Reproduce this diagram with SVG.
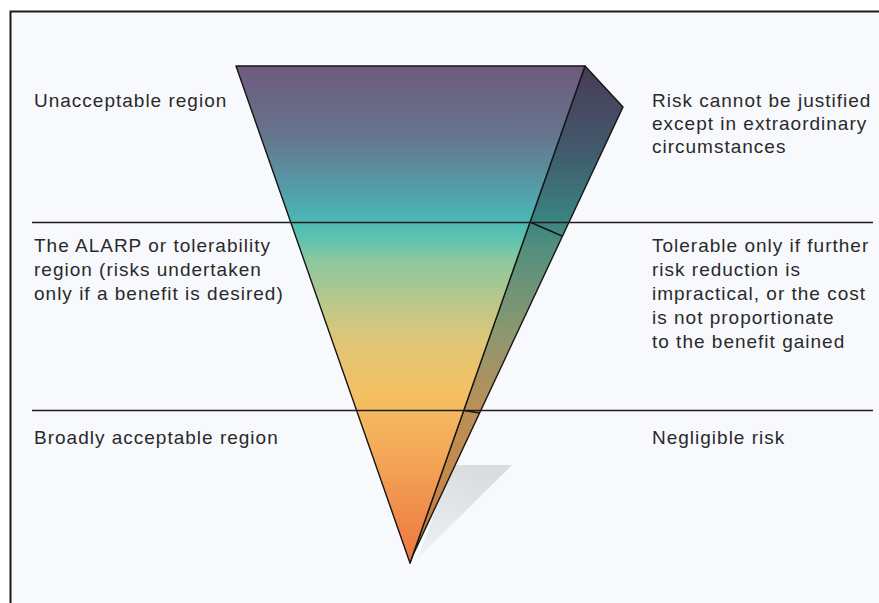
<svg xmlns="http://www.w3.org/2000/svg" width="879" height="603" viewBox="0 0 879 603">
  <style>
    .lbl { font-family: "Liberation Sans", Arial, sans-serif; font-size: 19px; letter-spacing: 1px; fill: #2a2a2a; }
    .edge { stroke: #151515; stroke-width: 1.4; stroke-linejoin: round; }
    .band { stroke: #1e1e1e; stroke-width: 1.5; }
  </style>
  <defs>
    <linearGradient id="gFront" gradientUnits="userSpaceOnUse" x1="0" y1="66" x2="0" y2="563">
      <stop offset="0" stop-color="#6e5a7e"/>
      <stop offset="0.13" stop-color="#67728c"/>
      <stop offset="0.21" stop-color="#5a8f9e"/>
      <stop offset="0.30" stop-color="#4ab3b4"/>
      <stop offset="0.345" stop-color="#5cc3b0"/>
      <stop offset="0.39" stop-color="#8ac7a0"/>
      <stop offset="0.48" stop-color="#bcc888"/>
      <stop offset="0.56" stop-color="#e2c676"/>
      <stop offset="0.66" stop-color="#f4c062"/>
      <stop offset="0.78" stop-color="#f4a858"/>
      <stop offset="0.91" stop-color="#f08a4a"/>
      <stop offset="1" stop-color="#ec7840"/>
    </linearGradient>
    <linearGradient id="gSide" gradientUnits="userSpaceOnUse" x1="0" y1="66" x2="0" y2="563">
      <stop offset="0" stop-color="#4a3a58"/>
      <stop offset="0.17" stop-color="#415a6c"/>
      <stop offset="0.31" stop-color="#3a8480"/>
      <stop offset="0.37" stop-color="#55907f"/>
      <stop offset="0.53" stop-color="#8a9870"/>
      <stop offset="0.68" stop-color="#b89058"/>
      <stop offset="0.82" stop-color="#c48a4a"/>
      <stop offset="1" stop-color="#c07040"/>
    </linearGradient>
    <linearGradient id="gShadow" gradientUnits="userSpaceOnUse" x1="470" y1="465" x2="440" y2="560">
      <stop offset="0" stop-color="#d8dcdc"/>
      <stop offset="1" stop-color="#eef1f3"/>
    </linearGradient>
  </defs>

  <rect x="0" y="0" width="879" height="603" fill="#ffffff"/>
  <g id="frame">
    <rect x="10" y="11" width="880" height="600" fill="#f7f9fc"/>
    <path d="M10.5 603 V11.5 H879" fill="none" stroke="#1a1a1a" stroke-width="2"/>
  </g>

  <g id="pyramid">
    <polygon id="shadow" points="452,465 512,465 418,558" fill="url(#gShadow)"/>
    <polygon id="side-face" class="edge" points="585,66 623,107 413,555 410,563" fill="url(#gSide)"/>
    <polygon id="front-face" class="edge" points="236,66 585,66 410,563" fill="url(#gFront)"/>
  </g>

  <g id="connectors">
    <line class="band" x1="32" y1="222.5" x2="873" y2="222.5"/>
    <line class="band" x1="32" y1="410.5" x2="873" y2="410.5"/>
    <line class="edge" x1="531" y1="222.5" x2="562" y2="236"/>
    <line class="edge" x1="464" y1="410.5" x2="480" y2="413"/>
  </g>

  <g id="unacceptable">
    <text class="lbl" x="34" y="107">Unacceptable region</text>
  </g>
  <g id="unacceptable-note">
    <text class="lbl" x="652" y="107">Risk cannot be justified</text>
    <text class="lbl" x="652" y="130">except in extraordinary</text>
    <text class="lbl" x="652" y="153">circumstances</text>
  </g>
  <g id="alarp">
    <text class="lbl" x="34" y="252">The ALARP or tolerability</text>
    <text class="lbl" x="34" y="276">region (risks undertaken</text>
    <text class="lbl" x="34" y="300">only if a benefit is desired)</text>
  </g>
  <g id="alarp-note">
    <text class="lbl" x="652" y="252">Tolerable only if further</text>
    <text class="lbl" x="652" y="276">risk reduction is</text>
    <text class="lbl" x="652" y="300">impractical, or the cost</text>
    <text class="lbl" x="652" y="324">is not proportionate</text>
    <text class="lbl" x="652" y="348">to the benefit gained</text>
  </g>
  <g id="broadly">
    <text class="lbl" x="34" y="444">Broadly acceptable region</text>
  </g>
  <g id="broadly-note">
    <text class="lbl" x="652" y="444">Negligible risk</text>
  </g>
</svg>
